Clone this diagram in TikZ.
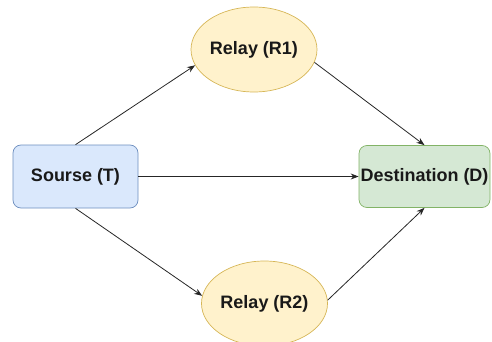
\documentclass[tikz,border=0pt]{standalone}
\usepackage{fontspec}
\setmainfont{Liberation Sans}
\usetikzlibrary{arrows.meta,shapes.geometric,positioning}
\definecolor{srcfill}{HTML}{DAE8FC}
\definecolor{srcline}{HTML}{6C8EBF}
\definecolor{dstfill}{HTML}{D5E8D4}
\definecolor{dstline}{HTML}{82B366}
\definecolor{relfill}{HTML}{FFF2CC}
\definecolor{relline}{HTML}{D6B656}
\tikzset{
  lbl/.style    = { font=\fontsize{18}{20}\selectfont\bfseries, text=black!90 },
  srcbox/.style = { lbl, draw=srcline, fill=srcfill, rounded corners=8pt, line width=0.7pt,
    minimum width=125pt, minimum height=63pt, inner sep=0pt },
  dstbox/.style = { lbl, draw=dstline, fill=dstfill, rounded corners=8pt, line width=0.7pt,
    minimum width=131pt, minimum height=62pt, inner sep=0pt },
  relay/.style  = { lbl, ellipse, draw=relline, fill=relfill, line width=0.7pt,
    minimum width=126pt, minimum height=85pt, inner sep=0pt },
  link/.style   = { -{Stealth[length=8pt,width=6pt]}, draw=black!85, line width=0.8pt }
}

\begin{document}
\begin{tikzpicture}[on grid]
      \useasboundingbox (0,0) rectangle (492pt,-342pt);
      % source, relays, destination
      \node[srcbox] (src) at (75.5pt,-176.5pt) {Sourse (T)};
      \node[relay, above right=127pt and 178.5pt of src] (r1) {Relay (R1)};
      \node[relay, below right=127pt and 189pt of src] (r2) {Relay (R2)};
      \node[dstbox, right=349pt of src] (dst) {Destination (D)};
      \draw[link] (src.north) -- (r1.195);
      \draw[link] (src.south) -- (r2.173);
      \draw[link] (src.east) -- (dst.west);
      \draw[link] (r1.-12) -- (dst.north);
      \draw[link] (r2.3) -- (dst.south);
    \end{tikzpicture}
\end{document}
